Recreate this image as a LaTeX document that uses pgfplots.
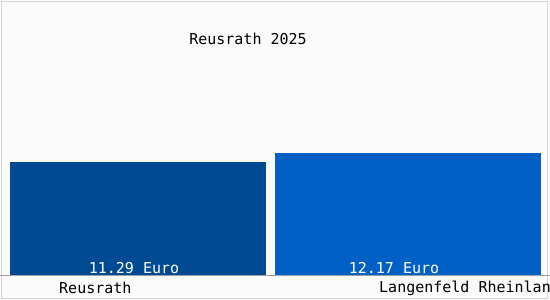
\documentclass[border=0pt]{standalone}
\usepackage{pgfplots}
\pgfplotsset{compat=1.18}
\usepackage{fontspec}
\setmainfont{DejaVu Sans Mono}
\definecolor{barA}{HTML}{004A94}
\definecolor{barB}{HTML}{0060C6}
\definecolor{bgc}{HTML}{FBFBFB}
\definecolor{frm}{HTML}{D4D4D4}
\definecolor{axl}{HTML}{A0A0A0}
\begin{document}
\begin{tikzpicture}
\clip (0,0) rectangle (550bp,300bp);
\fill[bgc] (0,0) rectangle (550bp,300bp);
\draw[frm, line width=1bp] (1.5bp,1.5bp) rectangle (547.5bp,298.5bp);
\begin{axis}[
  at={(0,25bp)}, anchor=south west,
  width=550bp, height=275bp, scale only axis,
  xmin=-0.5111, xmax=1.5259, ymin=0, ymax=27.4,
  hide y axis,
  axis x line=bottom,
  x axis line style={-, axl, line width=1bp},
  xtick={-0.2926,0.8926},
  xticklabels={Reusrath,Langenfeld Rheinland},
  major tick length=0pt,
  xticklabel style={anchor=west, inner sep=0pt, yshift=-13bp, font=\fontsize{15bp}{15bp}\selectfont},
  clip=false,
  ybar, bar shift=0pt,
]
\addplot[fill=barA, draw=none, bar width=256bp] coordinates {(0,11.29)};
\addplot[fill=barB, draw=none, bar width=266bp] coordinates {(1,12.17)};
\node[white, font=\fontsize{15bp}{15bp}\selectfont, inner sep=0pt] at (axis cs:0,0) [xshift=-4bp, yshift=7bp] {11.29 Euro};
\node[white, font=\fontsize{15bp}{15bp}\selectfont, inner sep=0pt] at (axis cs:1,0) [xshift=-14bp, yshift=7bp] {12.17 Euro};
\node[black, font=\fontsize{15bp}{15bp}\selectfont, inner sep=0pt] at (axis description cs:0.4509,0.858) {Reusrath 2025};
\end{axis}
\end{tikzpicture}
\end{document}
